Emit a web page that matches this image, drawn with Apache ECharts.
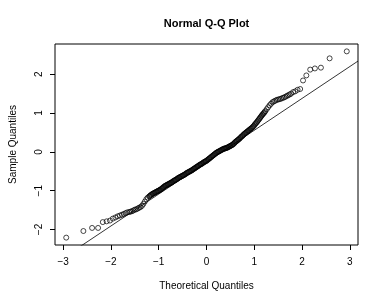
<!DOCTYPE html>
<html>
<head>
<meta charset="utf-8">
<script src="https://cdn.jsdelivr.net/npm/echarts@6/dist/echarts.min.js"></script>
<style>html,body{margin:0;padding:0;background:#fff}#c{width:382px;height:300px}</style>
</head>
<body>
<div id="c"></div>
<script>
// Sample points: theoretical quantile (x) and sample quantile (y)
var qx = [-2.935,-2.576,-2.394,-2.268,-2.170,-2.089,-2.020,-1.960,-1.906,-1.857,-1.812,-1.770,-1.732,-1.695,-1.661,
-1.62,-1.59,-1.56,-1.53,-1.50,-1.47,-1.44,-1.41,-1.38,-1.35,-1.32,-1.29,-1.26,-1.23,-1.20,-1.17,-1.14,-1.11,-1.08,-1.05,-1.02,-0.99,-0.96,-0.93,-0.90,-0.87,-0.84,-0.81,-0.78,-0.75,-0.72,-0.69,-0.66,-0.63,-0.60,-0.57,-0.54,-0.51,-0.48,-0.45,-0.42,-0.39,-0.36,-0.33,-0.30,-0.27,-0.24,-0.21,-0.18,-0.15,-0.12,-0.09,-0.06,-0.03,0.00,
0.03,0.06,0.09,0.12,0.15,0.18,0.21,0.24,0.27,0.30,0.33,0.36,0.39,0.42,0.45,0.48,0.51,0.54,0.57,0.60,0.63,0.66,0.69,0.72,0.75,0.78,0.81,0.84,0.87,0.90,0.93,0.96,0.99,1.02,1.05,1.08,1.11,1.14,1.17,1.20,1.23,1.26,1.29,1.32,1.35,1.38,1.41,1.44,1.47,1.50,1.53,1.56,1.59,1.62,1.65,1.68,1.71,1.74,
1.770,1.812,1.857,1.906,1.960,2.020,2.089,2.170,2.268,2.394,2.576,2.935];
var qy = [-2.21,-2.04,-1.96,-1.96,-1.81,-1.79,-1.77,-1.72,-1.69,-1.66,-1.64,-1.62,-1.60,-1.58,-1.56,
-1.55,-1.54,-1.53,-1.51,-1.49,-1.48,-1.46,-1.44,-1.42,-1.39,-1.34,-1.28,-1.22,-1.18,-1.15,-1.12,-1.09,-1.07,-1.05,-1.03,-1.01,-0.99,-0.97,-0.94,-0.91,-0.88,-0.86,-0.84,-0.82,-0.80,-0.78,-0.75,-0.73,-0.71,-0.68,-0.66,-0.64,-0.62,-0.60,-0.58,-0.55,-0.53,-0.51,-0.49,-0.47,-0.44,-0.42,-0.39,-0.37,-0.34,-0.32,-0.30,-0.27,-0.25,-0.23,
-0.20,-0.17,-0.14,-0.11,-0.08,-0.05,-0.02,0.00,0.02,0.04,0.06,0.08,0.09,0.10,0.12,0.14,0.16,0.18,0.21,0.25,0.28,0.31,0.34,0.38,0.41,0.45,0.48,0.51,0.54,0.57,0.60,0.63,0.67,0.72,0.76,0.81,0.86,0.91,0.96,1.00,1.05,1.10,1.15,1.20,1.24,1.28,1.30,1.32,1.34,1.35,1.36,1.37,1.39,1.40,1.42,1.44,1.46,1.48,
1.50,1.54,1.56,1.60,1.62,1.84,1.97,2.12,2.15,2.17,2.41,2.59];
// Further points in the dense middle of the band
var qx2 = [-1.185,-1.155,-1.125,-1.095,-1.065,-1.035,-1.005,-0.975,-0.945,-0.915,-0.885,-0.855,-0.825,-0.795,-0.765,-0.735,-0.705,-0.675,-0.645,-0.615,-0.585,-0.555,-0.525,-0.495,-0.465,-0.435,-0.405,-0.375,-0.345,-0.315,-0.285,-0.255,-0.225,-0.195,-0.165,-0.135,-0.105,-0.075,-0.045,-0.015,
0.015,0.045,0.075,0.105,0.135,0.165,0.195,0.225,0.255,0.285,0.315,0.345,0.375,0.405,0.435,0.465,0.495,0.525,0.555,0.585,0.615,0.645,0.675,0.705,0.735,0.765,0.795,0.825,0.855,0.885,0.915,0.945,0.975,1.005,1.035,1.065,1.095,1.125,1.155,1.185,1.215];
var qy2 = [-1.135,-1.105,-1.08,-1.06,-1.04,-1.02,-1.00,-0.98,-0.955,-0.925,-0.895,-0.87,-0.85,-0.83,-0.81,-0.79,-0.765,-0.74,-0.72,-0.695,-0.67,-0.65,-0.63,-0.61,-0.59,-0.565,-0.54,-0.52,-0.50,-0.48,-0.455,-0.43,-0.405,-0.38,-0.355,-0.33,-0.31,-0.285,-0.26,-0.24,
-0.215,-0.185,-0.155,-0.125,-0.095,-0.065,-0.035,-0.01,0.01,0.03,0.05,0.07,0.085,0.095,0.11,0.13,0.15,0.17,0.195,0.23,0.265,0.295,0.325,0.36,0.395,0.43,0.465,0.495,0.525,0.555,0.585,0.615,0.65,0.695,0.74,0.785,0.835,0.885,0.935,0.98,1.025];
// Reference line (qqline) endpoints
var lineX = [-3.17, 3.17];
var lineY = [-2.872, 2.340];
// Tick labels
var xTicks = [-3,-2,-1,0,1,2,3];
var yTicks = [-2,-1,0,1,2];

var pts = qx.map(function(v,i){return [v, qy[i]];}).concat(qx2.map(function(v,i){return [v, qy2[i]];}));
var linePts = lineX.map(function(v,i){return [v, lineY[i]];});
var fmt = function(v){ return String(v).replace('-', '\u2212'); };
var font = 'Liberation Sans, Arial, Helvetica, sans-serif';

var chart = echarts.init(document.getElementById('c'), null, {renderer:'canvas'});
chart.setOption({
  animation: false,
  backgroundColor: '#fff',
  title: {
    text: 'Normal Q-Q Plot',
    left: 201.5, top: 13, textAlign: 'center',
    textStyle: {fontFamily: font, fontSize: 11, fontWeight: 'bold', color: '#000'}
  },
  grid: {left: 45, top: 44, width: 313, height: 201, show: true, borderColor: '#000', borderWidth: 1, backgroundColor: 'transparent'},
  xAxis: {
    type: 'value', min: -3.17, max: 3.17,
    axisLine: {show: false, onZero: false},
    splitLine: {show: false},
    axisTick: {show: true, length: 5, customValues: xTicks, lineStyle: {color: '#000', width: 1}},
    axisLabel: {customValues: xTicks, formatter: fmt, fontFamily: font, fontSize: 10, color: '#000', margin: 12},
    name: 'Theoretical Quantiles', nameLocation: 'middle', nameGap: 36,
    nameTextStyle: {fontFamily: font, fontSize: 10, color: '#000'}
  },
  yAxis: {
    type: 'value', min: -2.40, max: 2.78,
    axisLine: {show: false, onZero: false},
    splitLine: {show: false},
    axisTick: {show: true, length: 5, customValues: yTicks, lineStyle: {color: '#000', width: 1}},
    axisLabel: {customValues: yTicks, formatter: fmt, rotate: 90, fontFamily: font, fontSize: 10, color: '#000', margin: 11},
    name: 'Sample Quantiles', nameLocation: 'middle', nameGap: 37, nameRotate: 90,
    nameTextStyle: {fontFamily: font, fontSize: 10, color: '#000'}
  },
  series: [
    {
      type: 'line', data: linePts, showSymbol: false, symbol: 'none', clip: true,
      lineStyle: {color: '#000', width: 0.8}, z: 1
    },
    {
      type: 'scatter', data: pts, symbol: 'circle', symbolSize: 5,
      itemStyle: {color: 'rgba(0,0,0,0)', borderColor: '#000', borderWidth: 0.9}, z: 2
    }
  ]
});
</script>
</body>
</html>
